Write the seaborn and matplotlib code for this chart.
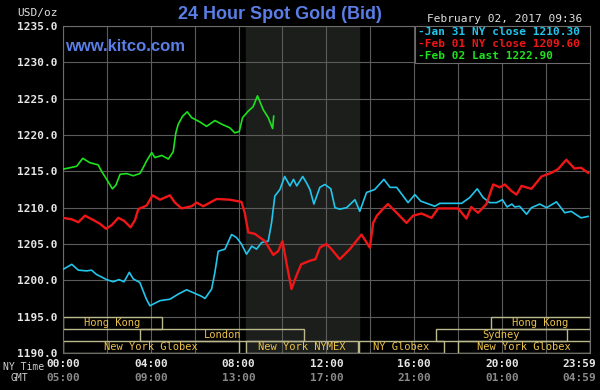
import numpy as np
import pandas as pd
import seaborn as sns
import matplotlib.pyplot as plt
from matplotlib.transforms import blended_transform_factory, ScaledTranslation

# series: hours since 00:00 NY time, price in USD/oz
jan31_hours = [0.0, 0.4, 0.7, 1.08, 1.3, 1.53, 1.99, 2.29, 2.55, 2.78, 3.02, 3.2, 3.5, 3.8,
               3.96, 4.42, 4.87, 5.25, 5.63, 6.01, 6.31, 6.47, 6.77, 6.92, 7.07, 7.38, 7.68,
               7.9, 8.13, 8.36, 8.6, 8.82, 9.05, 9.35, 9.5, 9.65, 9.88, 10.1, 10.34, 10.5,
               10.65, 10.92, 11.1, 11.25, 11.43, 11.7, 11.93, 12.2, 12.39, 12.61, 12.92,
               13.3, 13.52, 13.83, 14.2, 14.62, 14.9, 15.2, 15.72, 16.03, 16.3, 16.94,
               17.17, 18.16, 18.53, 18.87, 19.14, 19.44, 19.75, 20.02, 20.23, 20.45, 20.58,
               20.8, 21.12, 21.34, 21.72, 22.03, 22.48, 22.86, 23.15, 23.6, 23.92]
jan31_price = [1201.5, 1202.2, 1201.4, 1201.3, 1201.4, 1200.8, 1200.1, 1199.8, 1200.1, 1199.8,
               1201.1, 1200.2, 1199.7, 1197.4, 1196.5, 1197.2, 1197.4, 1198.1, 1198.7, 1198.2,
               1197.8, 1197.5, 1198.8, 1201.1, 1204.0, 1204.3, 1206.3, 1205.9, 1205.0, 1203.6,
               1204.7, 1204.3, 1205.2, 1205.4, 1207.9, 1211.6, 1212.5, 1214.3, 1213.0, 1213.9,
               1213.0, 1214.3, 1213.4, 1212.5, 1210.5, 1212.8, 1213.2, 1212.6, 1210.0, 1209.8,
               1210.0, 1211.1, 1209.5, 1212.1, 1212.5, 1213.9, 1212.8, 1212.8, 1210.7, 1211.8,
               1210.9, 1210.2, 1210.6, 1210.6, 1211.4, 1212.6, 1211.4, 1210.7, 1210.7, 1211.1,
               1210.1, 1210.5, 1210.1, 1210.2, 1209.1, 1210.0, 1210.5, 1210.0, 1210.8, 1209.3,
               1209.5, 1208.6, 1208.8]

feb01_hours = [0.0, 0.4, 0.7, 1.0, 1.38, 1.68, 1.96, 2.22, 2.52, 2.78, 3.08, 3.28, 3.43,
               3.81, 4.08, 4.42, 4.87, 5.1, 5.4, 5.86, 6.09, 6.39, 7.0, 7.6, 8.13, 8.28,
               8.44, 8.74, 9.2, 9.58, 9.8, 10.0, 10.18, 10.41, 10.63, 10.85, 11.25, 11.5,
               11.7, 12.0, 12.23, 12.61, 13.07, 13.6, 13.98, 14.13, 14.3, 14.57, 14.8, 15.2,
               15.65, 15.95, 16.33, 16.79, 17.09, 18.0, 18.38, 18.6, 18.91, 19.29, 19.6,
               19.9, 20.13, 20.43, 20.66, 20.89, 21.34, 21.8, 22.25, 22.55, 22.93, 23.3,
               23.6, 23.92]
feb01_price = [1208.6, 1208.4, 1208.0, 1208.9, 1208.3, 1207.8, 1207.1, 1207.6, 1208.6, 1208.2,
               1207.3, 1208.3, 1209.8, 1210.3, 1211.7, 1211.1, 1211.7, 1210.7, 1209.9, 1210.2,
               1210.7, 1210.2, 1211.2, 1211.1, 1210.8, 1209.3, 1206.6, 1206.4, 1205.4, 1203.5,
               1204.0, 1205.4, 1202.4, 1198.8, 1200.6, 1202.2, 1202.7, 1202.9, 1204.5, 1205.0,
               1204.3, 1202.9, 1204.3, 1206.3, 1204.5, 1207.9, 1208.9, 1209.8, 1210.5, 1209.3,
               1207.9, 1208.9, 1209.2, 1208.6, 1209.9, 1209.9, 1208.5, 1210.1, 1209.3, 1210.5,
               1213.2, 1212.8, 1213.2, 1212.3, 1211.8, 1213.0, 1212.6, 1214.3, 1214.8, 1215.3,
               1216.6, 1215.4, 1215.5, 1214.8]

feb02_hours = [0.0, 0.62, 0.9, 1.22, 1.6, 1.76, 1.99, 2.25, 2.41, 2.6, 2.9, 3.2, 3.5, 3.65,
               3.8, 4.04, 4.19, 4.5, 4.8, 5.02, 5.14, 5.25, 5.45, 5.66, 5.86, 6.24, 6.54,
               6.92, 7.23, 7.6, 7.83, 8.03, 8.18, 8.44, 8.66, 8.86, 9.12, 9.35, 9.55, 9.6]
feb02_price = [1215.3, 1215.7, 1216.8, 1216.2, 1215.9, 1215.0, 1213.9, 1212.6, 1213.1, 1214.6,
               1214.7, 1214.4, 1214.7, 1215.5, 1216.4, 1217.6, 1216.9, 1217.2, 1216.7, 1217.7,
               1220.3, 1221.5, 1222.6, 1223.2, 1222.4, 1221.8, 1221.2, 1222.0, 1221.5, 1221.0,
               1220.3, 1220.5, 1222.4, 1223.3, 1223.9, 1225.4, 1223.5, 1222.4, 1220.9, 1222.6]

series_names = ['Jan 31 NY close', 'Feb 01 NY close', 'Feb 02 Last']
series_last = ['1210.30', '1209.60', '1222.90']
series_colors = ['#22c6ec', '#ee1616', '#1de21d']

# trading sessions along the bottom (row 0 = top row)
session_names = ['Hong Kong', 'London', 'New York Globex', 'New York NYMEX', 'NY Globex',
                 'Sydney', 'New York Globex', 'Hong Kong']
session_start = [0.0, 3.5, 0.0, 8.33, 13.5, 17.0, 18.0, 19.5]
session_end = [4.5, 11.0, 8.0, 13.45, 17.35, 22.95, 24.0, 24.0]
session_row = [0, 1, 2, 2, 2, 1, 2, 0]

ny_ticks = ['00:00', '04:00', '08:00', '12:00', '16:00', '20:00', '23:59']
gmt_ticks = ['05:00', '09:00', '13:00', '17:00', '21:00', '01:00', '04:59']

frames = []
for name, h, p in zip(series_names, [jan31_hours, feb01_hours, feb02_hours],
                      [jan31_price, feb01_price, feb02_price]):
    frames.append(pd.DataFrame({'hour': h, 'price': p, 'series': name}))
df = pd.concat(frames, ignore_index=True)

mono = 'DejaVu Sans Mono'
fig, ax = plt.subplots(figsize=(6, 3.9), dpi=100)
fig.patch.set_facecolor('black')
ax.set_facecolor('black')
fig.subplots_adjust(left=0.105, right=0.983, top=0.933, bottom=0.095)

# NYMEX hours shading
ax.axvspan(8.33, 13.5, color='#1b1e1b', zorder=0)

widths = [1.2, 1.7, 1.2]
for name, col, lw in zip(series_names, series_colors, widths):
    sns.lineplot(data=df[df['series'] == name], x='hour', y='price', color=col,
                 linewidth=lw, estimator=None, sort=False, ax=ax, zorder=3)

# session bars
row_h = 5 / 3
row_y = [1195 - row_h * (r + 0.5) for r in session_row]
ax.barh(row_y, np.array(session_end) - np.array(session_start), left=session_start,
        height=row_h, facecolor='none', edgecolor='#bdb98e', linewidth=1.0, zorder=2)
for nm, s, e, y in zip(session_names, session_start, session_end, row_y):
    ax.text((s + e) / 2, y, nm, color='#ecc24a', fontsize=7.5, family=mono,
            ha='center', va='center', zorder=4)

ax.set_xlim(0, 24)
ax.set_ylim(1190, 1235)
ax.set_xticks(np.arange(0, 25, 4))
ax.set_xticks(np.arange(2, 24, 4), minor=True)
ax.set_xticklabels(ny_ticks)
ax.set_yticks(np.arange(1190, 1236, 5))
ax.set_yticklabels([f'{v:.1f}' for v in np.arange(1190, 1236, 5)])
ax.set_xlabel('')
ax.set_ylabel('')
ax.tick_params(which='both', length=0, colors='#e6e6e6', labelsize=8, pad=4)
for lab in ax.get_xticklabels() + ax.get_yticklabels():
    lab.set_family(mono)
    lab.set_fontweight('bold')
# last time label sits left of its tick so it stays inside the figure
shift = ScaledTranslation(-11 / 100, 0, fig.dpi_scale_trans)
last_lab = ax.get_xticklabels()[-1]
last_lab.set_transform(last_lab.get_transform() + shift)

ax.grid(True, which='both', color='#5c5c5c', linewidth=0.8, zorder=1)
ax.set_axisbelow(True)
for sp in ax.spines.values():
    sp.set_color('#6c6c6c')
    sp.set_linewidth(0.8)

# GMT row under the NY time ticks
tr = blended_transform_factory(ax.transData, ax.transAxes)
for i, (x, g) in enumerate(zip(np.arange(0, 25, 4), gmt_ticks)):
    t = tr + shift if i == len(gmt_ticks) - 1 else tr
    ax.text(x, -0.077, g, transform=t, color='#8a8a8a', fontsize=8, family=mono,
            fontweight='bold', ha='center', va='center')
fig.text(0.039, 0.060, 'NY Time', color='#d0d0d0', fontsize=7, family=mono,
         ha='center', va='center')
fig.text(0.032, 0.031, 'GMT', color='#d0d0d0', fontsize=7, family=mono,
         ha='center', va='center')

# legend box
ax.add_patch(plt.Rectangle((0.668, 0.888), 0.332, 0.112, transform=ax.transAxes,
                           facecolor='black', edgecolor='#6c6c6c', linewidth=0.8, zorder=5))
for i, (name, last, col) in enumerate(zip(series_names, series_last, series_colors)):
    ax.text(0.674, 0.982 - i * 0.037, f'-{name} {last}', transform=ax.transAxes,
            color=col, fontsize=8, family=mono, fontweight='bold',
            ha='left', va='center', zorder=6)

fig.text(0.467, 0.962, '24 Hour Spot Gold (Bid)', color='#5a7ee6', fontsize=13,
         family='Liberation Sans', fontweight='bold', ha='center', va='center')
fig.text(0.108, 0.882, 'www.kitco.com', color='#5a7ee6', fontsize=12,
         family='Liberation Sans', fontweight='bold', ha='left', va='center', zorder=6)
fig.text(0.712, 0.951, 'February 02, 2017 09:36', color='#e0e0e0', fontsize=8,
         family=mono, ha='left', va='center')
fig.text(0.097, 0.967, 'USD/oz', color='#e0e0e0', fontsize=8, family=mono,
         ha='right', va='center')

plt.savefig('out.png', dpi=100, facecolor='black')
